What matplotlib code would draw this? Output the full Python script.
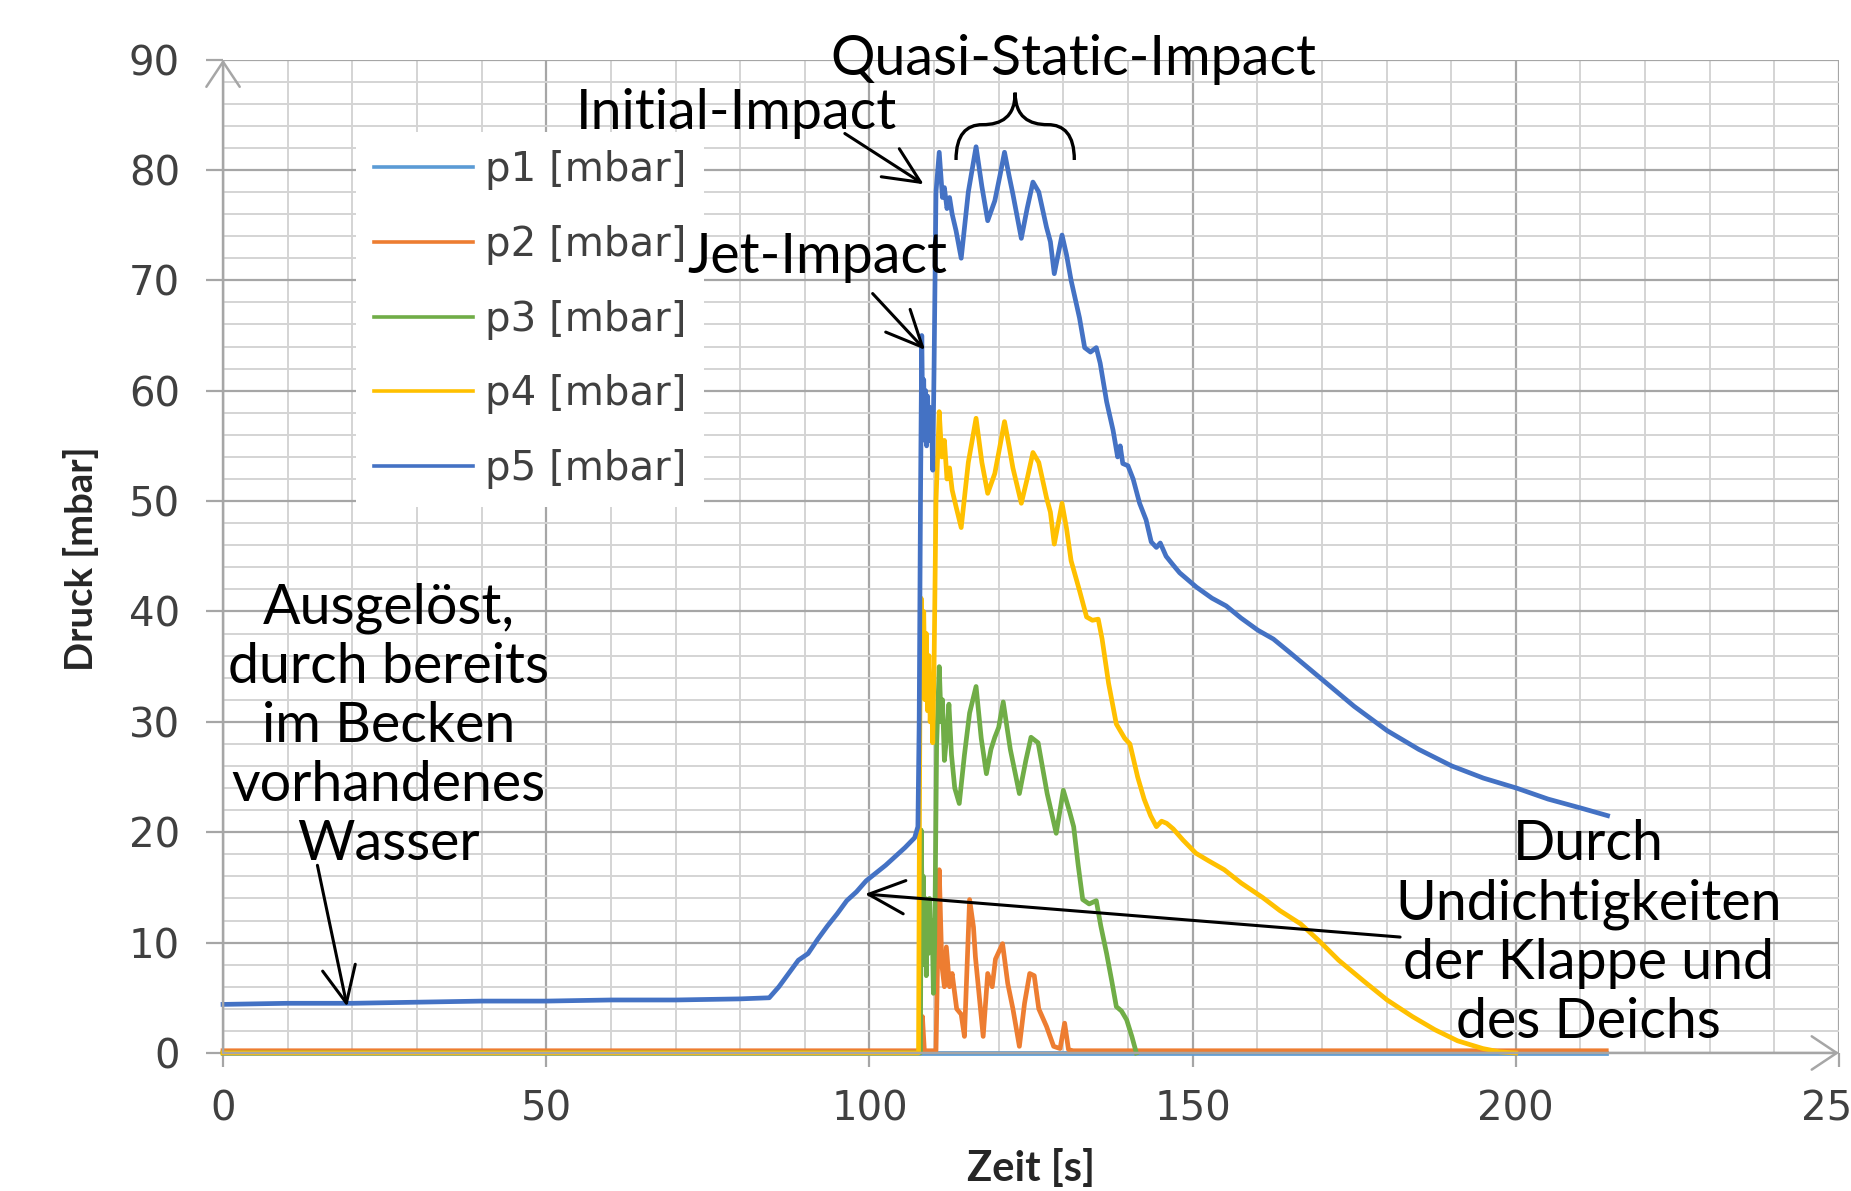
import matplotlib
matplotlib.use("Agg")
import matplotlib.pyplot as plt
from matplotlib.lines import Line2D
from matplotlib.path import Path
from matplotlib.patches import PathPatch

# ---------------- data ----------------
series_names = ["p1 [mbar]", "p2 [mbar]", "p3 [mbar]", "p4 [mbar]", "p5 [mbar]"]
series_colors = ["#5B9BD5", "#ED7D31", "#70AD47", "#FFC000", "#4472C4"]

t1 = [0, 214]
p1 = [0.0, 0.0]

t2 = [0, 50, 107.9, 108.2, 108.5, 110.3, 110.6, 110.8, 111.2, 111.6, 111.9, 112.4, 112.8,
      113.5, 114.2, 114.7, 115.5, 116.1, 116.4, 116.8, 117.6, 118.3, 119.0, 119.5, 120.6,
      121.4, 122.2, 123.2, 124.0, 124.8, 125.5, 126.2, 127.4, 128.5, 129.5, 130.2, 130.8,
      131.5, 214]
p2 = [0.2, 0.2, 0.2, 3.3, 0.2, 0.2, 10.0, 16.6, 8.0, 6.0, 9.6, 6.0, 7.2,
      4.0, 3.5, 1.5, 13.9, 11.4, 8.7, 6.3, 1.5, 7.2, 6.0, 8.5, 9.9,
      6.3, 4.0, 0.6, 4.5, 7.2, 7.0, 4.0, 2.4, 0.6, 0.4, 2.7, 0.3,
      0.2, 0.2]

t3 = [0, 107.9, 108.0, 108.2, 108.35, 108.5, 108.65, 108.8, 108.95, 109.1, 109.3, 109.5,
      109.7, 109.9, 110.1, 110.4, 110.8, 111.1, 111.3, 111.6, 112.0, 112.3, 112.7, 113.2,
      113.9, 114.7, 115.5, 116.5, 117.3, 118.1, 118.8, 119.4, 120.0, 120.7, 121.8, 123.2,
      124.2, 125.0, 126.1, 127.5, 128.9, 130.0, 131.0, 131.6, 132.3, 133.0, 134.0, 135.1,
      135.8, 136.7, 137.5, 138.2, 139.0, 139.8, 140.6, 141.3]
p3 = [0.0, 0.0, 20.2, 12.0, 16.0, 8.0, 14.0, 7.0, 13.0, 9.0, 14.0, 10.0,
      12.0, 5.4, 10.0, 28.0, 35.0, 30.0, 32.0, 26.5, 29.0, 31.6, 27.0, 24.0,
      22.6, 27.0, 30.8, 33.2, 28.5, 25.3, 27.5, 28.6, 29.5, 31.8, 27.5, 23.5,
      26.5, 28.6, 28.1, 23.5, 19.9, 23.8, 21.8, 20.5, 17.0, 13.9, 13.5, 13.8,
      11.5, 9.0, 6.5, 4.2, 3.8, 3.0, 1.5, 0.0]

t4 = [0, 107.6, 107.8, 108.0, 108.2, 108.4, 108.6, 108.8, 109.0, 109.2, 109.4, 109.6,
      109.8, 110.0, 110.3, 110.8, 111.2, 111.6, 112.0, 112.4, 112.8, 113.4, 114.2, 115.3,
      116.5, 117.4, 118.3, 119.4, 120.2, 120.9, 121.6, 122.2, 123.5, 124.4, 125.3, 126.2,
      127.4, 128.0, 128.6, 129.8, 130.5, 131.2, 132.5, 133.6, 134.5, 135.4, 136.0, 137.0,
      138.2, 139.0, 139.5, 140.3, 141.5, 142.5, 143.5, 144.4, 145.2, 146.0, 147.0, 148.5,
      150.5, 152.5, 154.9, 157.5, 160.8, 163.5, 166.7, 169.5, 172.6, 176.5, 180.1, 184.0,
      187.5, 191.0, 194.9, 197.5, 200.0]
p4 = [0.0, 0.0, 30.0, 41.2, 33.0, 40.0, 32.0, 38.0, 31.0, 36.0, 30.0, 33.0,
      28.1, 35.0, 50.0, 58.1, 54.0, 55.5, 52.0, 53.0, 51.0, 49.5, 47.6, 53.5,
      57.5, 53.5, 50.7, 52.5, 55.0, 57.2, 55.0, 53.0, 49.8, 52.0, 54.4, 53.5,
      50.3, 49.0, 46.1, 49.8, 47.5, 44.6, 41.9, 39.5, 39.2, 39.3, 37.5, 33.5,
      29.8, 29.0, 28.5, 28.0, 25.0, 23.0, 21.5, 20.5, 21.0, 20.8, 20.3, 19.3,
      18.1, 17.4, 16.6, 15.4, 14.1, 12.9, 11.7, 10.2, 8.4, 6.5, 4.8, 3.3,
      2.1, 1.1, 0.4, 0.1, 0.0]

t5 = [0, 10, 20, 30, 40, 50, 60, 70, 80, 84.5, 86.0, 87.5, 89.0, 90.5, 92.0, 93.5, 95.0,
      96.5, 98.0, 99.5, 101.0, 102.5, 104.0, 105.5, 107.0, 107.5, 107.7, 107.9, 108.1,
      108.25, 108.4, 108.55, 108.7, 108.85, 109.0, 109.15, 109.3, 109.45, 109.6, 109.8,
      110.0, 110.3, 110.8, 111.3, 111.6, 112.0, 112.4, 112.8, 113.4, 114.2, 115.3, 116.5,
      117.4, 118.3, 119.4, 120.2, 120.9, 121.6, 122.2, 123.5, 124.4, 125.3, 126.2, 127.4,
      128.0, 128.6, 129.8, 130.5, 131.2, 132.5, 133.3, 134.2, 135.1, 135.7, 136.7, 137.7,
      138.4, 138.8, 139.2, 140.0, 140.8, 141.8, 142.8, 143.6, 144.4, 145.0, 145.9, 147.0,
      148.0, 150.6, 153.0, 155.2, 157.5, 160.1, 162.5, 165.0, 169.7, 175.0, 180.1, 185.0,
      190.1, 195.0, 200.1, 205.0, 210.0, 214.2]
p5 = [4.4, 4.5, 4.5, 4.6, 4.7, 4.7, 4.8, 4.8, 4.9, 5.0, 6.0, 7.2, 8.4, 9.0, 10.3, 11.5, 12.6,
      13.8, 14.6, 15.6, 16.3, 17.0, 17.8, 18.6, 19.5, 20.5, 30.0, 50.0, 65.0,
      57.0, 61.0, 55.5, 60.0, 55.0, 59.5, 55.5, 58.5, 55.5, 57.5, 52.8,
      62.0, 78.0, 81.6, 77.5, 78.4, 76.5, 77.5, 76.0, 74.5, 72.0, 78.0, 82.1,
      78.5, 75.4, 77.2, 79.5, 81.6, 79.5, 77.8, 73.8, 76.5, 78.9, 78.0, 74.8,
      73.5, 70.6, 74.1, 72.3, 70.0, 66.6, 63.9, 63.5, 63.9, 62.5, 59.0, 56.4,
      54.0, 55.0, 53.4, 53.2, 52.0, 49.8, 48.3, 46.3, 45.8, 46.2, 45.0, 44.2,
      43.5, 42.2, 41.2, 40.5, 39.4, 38.3, 37.5, 36.3, 34.0, 31.4, 29.2, 27.5,
      26.0, 24.9, 24.0, 23.0, 22.2, 21.5]

x_ticks = [0, 50, 100, 150, 200, 250]
y_ticks = [0, 10, 20, 30, 40, 50, 60, 70, 80, 90]

# ---------------- figure ----------------
ANN_FONT = "Lato"
fig = plt.figure(figsize=(18.51, 11.91), dpi=100)
ax = fig.add_axes([0.1205, 0.1159, 0.9935 - 0.1205, 0.9500 - 0.1159])

ax.set_xlim(0, 250)
ax.set_ylim(0, 90)
ax.set_xticks(x_ticks)
ax.set_yticks(y_ticks)
ax.set_xticks(range(0, 251, 10), minor=True)
ax.set_yticks(range(0, 91, 2), minor=True)
ax.set_xticklabels([str(v) for v in x_ticks])
ax.set_yticklabels([str(v) for v in y_ticks])
for s in ax.spines.values():
    s.set_visible(False)
ax.set_axisbelow(True)
ax.grid(which="major", color="#A6A6A6", lw=1.6)
ax.grid(which="minor", color="#D4D4D4", lw=1.4)
ax.tick_params(which="major", axis="y", length=12, width=1.6, color="#A6A6A6",
               pad=19, labelsize=29, labelcolor="#404040")
ax.tick_params(which="major", axis="x", length=10, width=1.6, color="#A6A6A6",
               pad=16, labelsize=29, labelcolor="#404040")
ax.tick_params(which="minor", length=0)

# axis arrows
arrow_gray = dict(arrowstyle="->,head_length=0.9,head_width=0.6", color="#A6A6A6",
                  lw=1.8, shrinkA=0, shrinkB=0, mutation_scale=20)
ax.annotate("", xy=(0, 90), xytext=(0, 0), arrowprops=arrow_gray, annotation_clip=False)
ax.annotate("", xy=(250, 0), xytext=(0, 0), arrowprops=arrow_gray, annotation_clip=False)

# series
all_t = [t1, t2, t3, t4, t5]
all_p = [p1, p2, p3, p4, p5]
for tt, pp, c in zip(all_t, all_p, series_colors):
    ax.plot(tt, pp, color=c, lw=3.4, clip_on=False, solid_joinstyle="round")

# legend
handles = [Line2D([0], [0], color=c, lw=2.6) for c in series_colors]
leg = fig.legend(handles, series_names, loc="upper left", bbox_to_anchor=(0.1923, 0.889),
                 bbox_transform=fig.transFigure, borderaxespad=0, frameon=True,
                 fancybox=False, facecolor="white", edgecolor="none", framealpha=1,
                 prop=dict(family="DejaVu Sans", size=29), borderpad=0.45,
                 handlelength=2.45, handletextpad=0.3, labelspacing=0.86)
for txt in leg.get_texts():
    txt.set_color("#404040")

# axis labels
fig.text(0.5568, 0.0185, "Zeit [s]", fontsize=30, fontweight="bold", family=ANN_FONT,
         color="#262626", ha="center", va="center")
fig.text(0.0435, 0.531, "Druck [mbar]", fontsize=27.5, fontweight="bold", family=ANN_FONT,
         color="#262626", ha="center", va="center", rotation=90)

# annotations
ann_kw = dict(fontsize=40, family=ANN_FONT, color="black", ha="center", va="center")
ax.text(131.6, 90.0, "Quasi-Static-Impact", clip_on=False, **ann_kw)
ax.text(79.5, 85.1, "Initial-Impact", clip_on=False, **ann_kw)
# drawn above the legend box, as in the reference
fig.text(92.0, 72.1, "Jet-Impact", transform=ax.transData, zorder=6, **ann_kw)
ax.text(25.6, 29.6, "Ausgelöst,\ndurch bereits\nim Becken\nvorhandenes\nWasser",
        linespacing=1.2, **ann_kw)
ax.text(211.2, 10.8, "Durch\nUndichtigkeiten\nder Klappe und\ndes Deichs",
        linespacing=1.2, clip_on=False, **ann_kw)

arrow_blk = dict(arrowstyle="->,head_length=1.3,head_width=0.6", color="black",
                 lw=2.2, shrinkA=0, shrinkB=0, mutation_scale=20)
ax.annotate("", xy=(108.4, 78.7), xytext=(96.2, 83.3), arrowprops=arrow_blk)
ax.annotate("", xy=(108.6, 63.7), xytext=(100.5, 68.8), arrowprops=arrow_blk)
ax.annotate("", xy=(19.2, 4.2), xytext=(14.6, 17.0), arrowprops=arrow_blk)
ax.annotate("", xy=(99.3, 14.4), xytext=(182.1, 10.5), arrowprops=arrow_blk)

# curly brace over the quasi-static part
verts = [(113.4, 80.9), (113.4, 83.2), (115.0, 84.1), (117.5, 84.1),
         (120.4, 84.1), (122.55, 84.8), (122.55, 87.0),
         (122.55, 84.8), (124.7, 84.1), (127.6, 84.1),
         (130.1, 84.1), (131.7, 83.2), (131.7, 80.9)]
codes = [Path.MOVETO, Path.CURVE4, Path.CURVE4, Path.CURVE4,
         Path.CURVE4, Path.CURVE4, Path.CURVE4,
         Path.CURVE4, Path.CURVE4, Path.CURVE4,
         Path.CURVE4, Path.CURVE4, Path.CURVE4]
ax.add_patch(PathPatch(Path(verts, codes), fill=False, lw=2.4, edgecolor="black",
                       clip_on=False, zorder=4))

fig.savefig("out.png", dpi=100, facecolor="white")
